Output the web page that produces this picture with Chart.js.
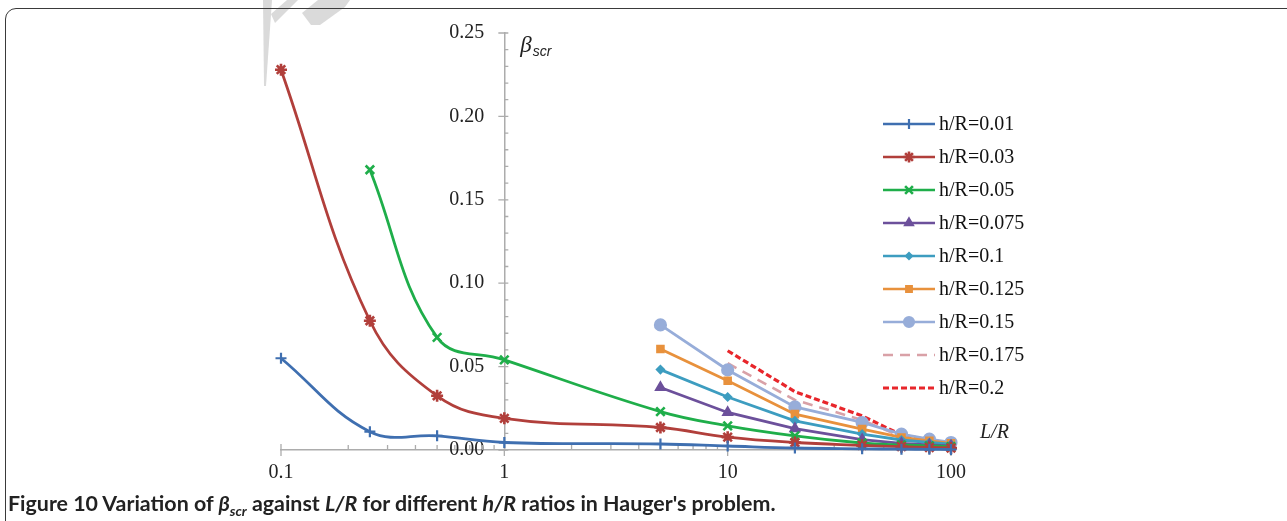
<!DOCTYPE html>
<html>
<head>
<meta charset="utf-8">
<script src="https://cdn.jsdelivr.net/npm/chart.js@4.4.0/dist/chart.umd.min.js"></script>
<style>
  body { margin: 0; width: 1287px; height: 521px; overflow: hidden; background: #fff; position: relative; }
  #mark { position: absolute; left: 0; top: 0; }
  #frame { position: absolute; left: 5px; top: 8px; width: 1330px; height: 620px; border: 1.5px solid #3a3a3a; border-radius: 11px; }
  #wrap { position: absolute; left: 0; top: 0; width: 1287px; height: 521px; }
  #caption { position: absolute; left: 8px; top: 490px; font-family: Lato, "Noto Sans", sans-serif; font-weight: bold; font-size: 21.4px; color: #222; white-space: nowrap; }
  #caption sub { font-size: 14px; }
</style>
</head>
<body>
<svg id="mark" width="400" height="100">
  <polygon points="263,0 272,0 266,86 264,86" fill="#dadada"/>
  <polygon points="271,14 287,0 298,0 275,23" fill="#dadada"/>
  <polygon points="302,13 318,0 350,0 345,7 320,25 311,25" fill="#dadada"/>
</svg>
<div id="frame"></div>
<div id="wrap"><canvas id="chart"></canvas></div>
<div id="caption">Figure 10 Variation of <i>β<sub>scr</sub></i> against <i>L/R</i> for different <i>h/R</i> ratios in Hauger's problem.</div>

<script>
// L/R values (x) and beta_scr for each h/R ratio
const lr = [0.1, 0.25, 0.5, 1, 5, 10, 20, 40, 60, 80, 100];

const hr001 = [0.055, 0.011, 0.0085, 0.0045, 0.0036, 0.0024, 0.0012, 0.0007, 0.0005, 0.0004, 0.0003];
const hr003 = [0.228, 0.0775, 0.0325, 0.019, 0.0135, 0.0077, 0.0045, 0.0028, 0.002, 0.0015, 0.0012];
const hr005 = [null, 0.168, 0.0675, 0.054, 0.023, 0.0145, 0.0085, 0.0042, 0.003, 0.0025, 0.002];
const hr0075 = [null, null, null, null, 0.0375, 0.0225, 0.0128, 0.0062, 0.004, 0.003, 0.0025];
const hr01 = [null, null, null, null, 0.0482, 0.0318, 0.0175, 0.0095, 0.006, 0.0045, 0.0035];
const hr0125 = [null, null, null, null, 0.0605, 0.0415, 0.0215, 0.0125, 0.0075, 0.0055, 0.004];
const hr015 = [null, null, null, null, 0.075, 0.048, 0.0258, 0.0165, 0.0095, 0.0065, 0.0045];
const hr0175 = [null, null, null, null, null, 0.052, 0.03, 0.018, 0.008, 0.0055, 0.0042];
const hr02 = [null, null, null, null, null, 0.0595, 0.035, 0.0205, 0.009, 0.006, 0.0042];

const labels = ['h/R=0.01', 'h/R=0.03', 'h/R=0.05', 'h/R=0.075', 'h/R=0.1', 'h/R=0.125', 'h/R=0.15', 'h/R=0.175', 'h/R=0.2'];

const xTicks = [0.1, 1, 10, 100];
const yTicks = [0, 0.05, 0.10, 0.15, 0.20, 0.25];

const axisGrey = '#acacac';
const serif = "'Liberation Serif', 'DejaVu Serif', serif";

function makeSet(label, vals, color, style, radius, extra) {
    return Object.assign({
        label: label,
        data: lr.map((x, i) => ({ x: x, y: vals[i] })),
        borderColor: color,
        backgroundColor: color,
        borderWidth: 2.8,
        pointStyle: style,
        pointRadius: radius,
        pointHoverRadius: radius,
        pointBorderWidth: 2.2,
        pointBackgroundColor: color,
        pointBorderColor: color,
        tension: 0,
        clip: false,
        fill: false,
    }, extra || {});
}

const datasets = [
    makeSet(labels[0], hr001, '#3f6fb0', 'cross', 5.5, { tension: 0.4 }),
    makeSet(labels[1], hr003, '#b13f3b', 'star', 6, { tension: 0.4, pointBorderWidth: 2.6 }),
    makeSet(labels[2], hr005, '#1fae4a', 'crossRot', 6, { tension: 0.4, pointBorderWidth: 2.6 }),
    makeSet(labels[3], hr0075, '#6c509b', 'triangle', 5),
    makeSet(labels[4], hr01, '#3d9dc0', 'rectRot', 3.5),
    makeSet(labels[5], hr0125, '#e8913c', 'rect', 4.5),
    makeSet(labels[6], hr015, '#97add9', 'circle', 5.5),
    makeSet(labels[7], hr0175, '#d9a1a7', false, 0, { borderDash: [10, 7], borderWidth: 2.6 }),
    makeSet(labels[8], hr02, '#e8262b', false, 0, { borderDash: [6, 3], borderWidth: 3.2 }),
];

// tick marks drawn on the axes like the original (majors cross, minors inside)
const axisTicks = {
    id: 'axisTicks',
    beforeDatasetsDraw(chart) {
        const ctx = chart.ctx;
        const xs = chart.scales.x;
        const ys = chart.scales.y;
        const y0 = ys.getPixelForValue(0);
        const xAxis = xs.getPixelForValue(1);
        ctx.save();
        ctx.strokeStyle = axisGrey;
        ctx.lineWidth = 1.3;
        ctx.beginPath();
        xTicks.forEach(v => {
            const px = xs.getPixelForValue(v);
            ctx.moveTo(px, y0 - 6);
            ctx.lineTo(px, y0 + 6);
        });
        for (let d = 0.1; d < 100; d *= 10) {
            for (let m = 2; m <= 9; m++) {
                const px = xs.getPixelForValue(d * m);
                ctx.moveTo(px, y0);
                ctx.lineTo(px, y0 - 5);
            }
        }
        yTicks.forEach(v => {
            const py = ys.getPixelForValue(v);
            ctx.moveTo(xAxis - 6, py);
            ctx.lineTo(xAxis + 4, py);
        });
        for (let k = 1; k < 25; k++) {
            if (k % 5 === 0) continue;
            const py = ys.getPixelForValue(k / 100);
            ctx.moveTo(xAxis, py);
            ctx.lineTo(xAxis + 4, py);
        }
        ctx.stroke();
        ctx.restore();
    },
    afterDraw(chart) {
        const ctx = chart.ctx;
        const area = chart.chartArea;
        const xAxis = chart.scales.x.getPixelForValue(1);
        ctx.save();
        ctx.fillStyle = '#222';
        ctx.textBaseline = 'alphabetic';
        ctx.textAlign = 'left';
        ctx.font = "italic 23px " + serif;
        ctx.fillText('β', xAxis + 16, area.top + 19);
        const bw = ctx.measureText('β').width;
        ctx.font = "italic 14px 'Liberation Sans', Arial, sans-serif";
        ctx.fillText('scr', xAxis + 16 + bw + 1, area.top + 23);
        ctx.font = "italic 20px " + serif;
        ctx.fillText('L/R', area.right + 29, area.bottom - 12);

        // legend: line sample with marker, then the label
        const lx = area.right - 68;
        datasets.forEach((ds, i) => {
            const y = area.top + 91 + i * 33;
            ctx.save();
            ctx.strokeStyle = ds.borderColor;
            ctx.lineWidth = ds.borderWidth - 0.3;
            ctx.setLineDash(ds.borderDash || []);
            ctx.beginPath();
            ctx.moveTo(lx, y);
            ctx.lineTo(lx + 52, y);
            ctx.stroke();
            ctx.restore();
            if (ds.pointStyle && Chart.helpers && Chart.helpers.drawPoint) {
                ctx.save();
                ctx.strokeStyle = ds.borderColor;
                ctx.fillStyle = ds.borderColor;
                ctx.lineWidth = ds.pointBorderWidth;
                Chart.helpers.drawPoint(ctx, { pointStyle: ds.pointStyle, radius: ds.pointRadius - 0.5, borderWidth: ds.pointBorderWidth, rotation: 0 }, lx + 26, y);
                ctx.restore();
            }
            ctx.font = "20px " + serif;
            ctx.fillStyle = '#111';
            ctx.textBaseline = 'middle';
            ctx.fillText(ds.label, lx + 56, y + 1);
        });
        ctx.restore();
    }
};

new Chart(document.getElementById('chart'), {
    type: 'line',
    data: { datasets: datasets },
    options: {
        responsive: true,
        maintainAspectRatio: false,
        animation: false,
        layout: { padding: { left: 281, right: 336, top: 33, bottom: 37 } },
        plugins: { legend: { display: false }, tooltip: { enabled: false } },
        scales: {
            x: {
                type: 'logarithmic',
                min: 0.1,
                max: 100,
                position: 'bottom',
                afterBuildTicks: scale => { scale.ticks = xTicks.map(v => ({ value: v })); },
                afterFit: scale => { scale.height = 34; },
                grid: { drawOnChartArea: false, drawTicks: false },
                border: { display: true, color: axisGrey, width: 1.5 },
                ticks: {
                    padding: 11,
                    color: '#222',
                    font: { family: serif, size: 20 },
                    callback: v => String(v),
                    maxRotation: 0,
                },
            },
            y: {
                type: 'linear',
                min: 0,
                max: 0.25,
                position: { x: 1 },
                afterBuildTicks: scale => { scale.ticks = yTicks.map(v => ({ value: v })); },
                grid: { drawOnChartArea: false, drawTicks: false },
                border: { display: true, color: axisGrey, width: 1.5 },
                ticks: {
                    color: '#222',
                    font: { family: serif, size: 20 },
                    // labels sit right-aligned on the axis, so pad them away from it
                    callback: v => v.toFixed(2) + '\u2002\u2002',
                },
            },
        },
    },
    plugins: [axisTicks],
});
</script>
</body>
</html>
